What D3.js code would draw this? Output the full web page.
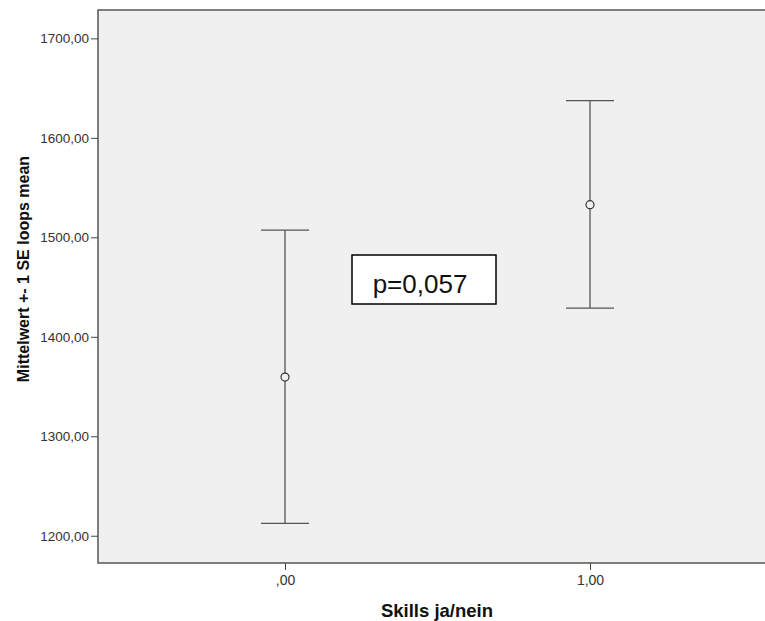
<!DOCTYPE html>
<html>
<head>
<meta charset="utf-8">
<script src="https://cdn.jsdelivr.net/npm/d3@7"></script>
<style>
  body { margin: 0; background: #fff; }
  svg { display: block; font-family: "Liberation Sans", Arial, sans-serif; }
</style>
</head>
<body>
<svg id="chart" width="765" height="621"></svg>
<script>
// data
var groups = [0, 1];
var groupLabels = [",00", "1,00"];
var means = [1359.5, 1532.8];
var lower = [1212.5, 1428.9];
var upper = [1507.3, 1637.3];
var yTicks = [1200, 1300, 1400, 1500, 1600, 1700];
var pText = "p=0,057";

(function () {
  var svg = d3.select("#chart");
  var plotLeft = 98, plotTop = 10, plotRight = 765, plotBottom = 563;

  var y = d3.scaleLinear().domain([1172.6, 1728.5]).range([plotBottom, plotTop]);
  var x = d3.scaleLinear().domain([0, 1]).range([285, 590]);

  // plot area
  svg.append("rect")
    .attr("x", plotLeft).attr("y", plotTop)
    .attr("width", plotRight - plotLeft + 2).attr("height", plotBottom - plotTop)
    .attr("fill", "#f0f0f0")
    .attr("stroke", "#555").attr("stroke-width", 1.5);

  // y axis
  var yAxis = svg.append("g")
    .attr("transform", "translate(" + plotLeft + ",0)")
    .call(d3.axisLeft(y).tickValues(yTicks).tickSize(7).tickPadding(2)
      .tickFormat(function(d) { return d3.format(".2f")(d).replace(".", ","); }));
  yAxis.select(".domain").remove();
  yAxis.selectAll("line").attr("stroke", "#444");
  yAxis.selectAll("text").style("fill", "#333").style("font-size", "13.5px");

  // x axis
  var xAxis = svg.append("g")
    .attr("transform", "translate(0," + plotBottom + ")")
    .call(d3.axisBottom(x).tickValues(groups).tickSize(7).tickPadding(5)
      .tickFormat(function(d, i) { return groupLabels[i]; }));
  xAxis.select(".domain").remove();
  xAxis.selectAll("line").attr("stroke", "#444");
  xAxis.selectAll("text").style("fill", "#333").style("font-size", "14px");

  // error bars
  var bars = svg.append("g").selectAll("g")
    .data(groups).enter().append("g");

  bars.append("line")
    .attr("x1", function(d) { return x(d); }).attr("x2", function(d) { return x(d); })
    .attr("y1", function(d, i) { return y(upper[i]); })
    .attr("y2", function(d, i) { return y(lower[i]); })
    .attr("stroke", "#555").attr("stroke-width", 1.3);

  [upper, lower].forEach(function(arr) {
    bars.append("line")
      .attr("x1", function(d) { return x(d) - 24; }).attr("x2", function(d) { return x(d) + 24; })
      .attr("y1", function(d, i) { return y(arr[i]); })
      .attr("y2", function(d, i) { return y(arr[i]); })
      .attr("stroke", "#555").attr("stroke-width", 1.3);
  });

  bars.append("circle")
    .attr("cx", function(d) { return x(d); })
    .attr("cy", function(d, i) { return y(means[i]); })
    .attr("r", 4)
    .attr("fill", "#f0f0f0").attr("stroke", "#333").attr("stroke-width", 1.2);

  // p value box
  svg.append("rect")
    .attr("x", 352).attr("y", 255).attr("width", 144).attr("height", 49)
    .attr("fill", "#fff").attr("stroke", "#000").attr("stroke-width", 1.5);
  svg.append("text")
    .attr("x", 420).attr("y", 293)
    .attr("text-anchor", "middle")
    .style("font-size", "26px").attr("fill", "#111")
    .text(pText);

  // axis titles
  svg.append("text")
    .attr("x", 437).attr("y", 617)
    .attr("text-anchor", "middle")
    .style("font-size", "18.5px").style("font-weight", "bold").attr("fill", "#111")
    .text("Skills ja/nein");

  svg.append("text")
    .attr("transform", "translate(29,269) rotate(-90)")
    .attr("text-anchor", "middle")
    .style("font-size", "16px").style("font-weight", "bold").attr("fill", "#111")
    .text("Mittelwert +- 1 SE loops mean");
}());
</script>
</body>
</html>
